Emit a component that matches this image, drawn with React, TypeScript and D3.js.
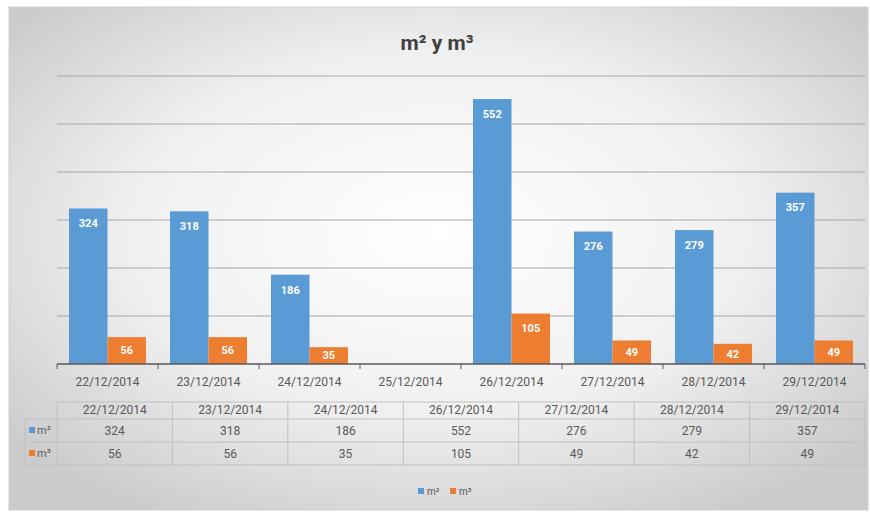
import React from "react";
import * as d3 from "d3";

// chart values
const categories = [
  "22/12/2014",
  "23/12/2014",
  "24/12/2014",
  "25/12/2014",
  "26/12/2014",
  "27/12/2014",
  "28/12/2014",
  "29/12/2014",
];
const m2Values: (number | null)[] = [324, 318, 186, null, 552, 276, 279, 357];
const m3Values: (number | null)[] = [56, 56, 35, null, 105, 49, 42, 49];
const seriesNames = ["m²", "m³"];
const yTicks = [0, 100, 200, 300, 400, 500, 600];

const colors = ["#5B9BD5", "#ED7D31"];
const textColor = "#595959";
const font = "Roboto, 'Open Sans', sans-serif";

export default function App() {
  const width = 870;
  const height = 513;

  // plot area
  const left = 57;
  const right = 865;
  const top = 76;
  const bottom = 364;

  const x = d3.scaleBand().domain(categories).range([left, right]).padding(0);
  const bw = x.bandwidth();
  const x1 = d3.scaleBand().domain(seriesNames).range([12, bw - 12]).padding(0);
  const y = d3.scaleLinear().domain([0, 600]).range([bottom, top]);

  const series = [m2Values, m3Values];

  // the data table only lists dates that have values
  const tableCats = categories.filter((c, i) => m2Values[i] !== null);
  const tx = d3.scaleBand().domain(tableCats).range([left, right]).padding(0);
  const tableLeft = 25;
  const rowY = [402, 419, 442, 465];

  return (
    <svg
      width={width}
      height={height}
      style={{ position: "absolute", left: 0, top: 0 }}
      fontFamily={font}
    >
      <defs>
        <radialGradient id="bg" cx="50%" cy="45%" r="65%">
          <stop offset="0%" stopColor="#ffffff" />
          <stop offset="55%" stopColor="#f0f0f0" />
          <stop offset="100%" stopColor="#cbcbcb" />
        </radialGradient>
      </defs>
      <rect x={0} y={0} width={width} height={height} fill="#ffffff" />
      <rect x={9} y={7} width={859} height={503} fill="url(#bg)" stroke="#d0d0d0" />

      {/* title */}
      <text
        x={437}
        y={50}
        textAnchor="middle"
        fontSize={21}
        fontWeight="bold"
        fill="#404040"
      >
        m² y m³
      </text>

      {/* gridlines */}
      {yTicks
        .filter((t) => t > 0)
        .map((t) => (
          <line
            key={t}
            x1={left}
            x2={right}
            y1={y(t)}
            y2={y(t)}
            stroke="#a6a6a6"
            strokeWidth={1}
          />
        ))}

      {/* bars */}
      {categories.map((c, i) => (
        <g key={c} transform={`translate(${x(c)},0)`}>
          {series.map((vals, s) => {
            const v = vals[i];
            if (v === null) return null;
            const bx = x1(seriesNames[s])!;
            const h = bottom - y(v);
            return (
              <g key={s}>
                <rect
                  x={bx}
                  y={y(v)}
                  width={x1.bandwidth()}
                  height={h}
                  fill={colors[s]}
                />
                <text
                  x={bx + x1.bandwidth() / 2}
                  y={y(v) + Math.min(15, h / 2)}
                  dy="0.35em"
                  textAnchor="middle"
                  fontSize={11}
                  fontWeight="bold"
                  fill="#ffffff"
                >
                  {v}
                </text>
              </g>
            );
          })}
        </g>
      ))}

      {/* category axis */}
      <line x1={left} x2={right} y1={bottom} y2={bottom} stroke="#595959" strokeWidth={1.5} />
      {categories.concat([""]).map((c, i) => {
        const px = left + i * bw;
        return <line key={i} x1={px} x2={px} y1={bottom} y2={bottom + 5} stroke="#595959" />;
      })}
      {categories.map((c) => (
        <text
          key={c}
          x={x(c)! + bw / 2}
          y={386}
          textAnchor="middle"
          fontSize={12}
          fill={textColor}
        >
          {c}
        </text>
      ))}

      {/* data table */}
      <g stroke="#c0c0c0" strokeWidth={1} fill="none">
        <line x1={left} x2={right} y1={rowY[0]} y2={rowY[0]} />
        {rowY.slice(1).map((ry) => (
          <line key={ry} x1={tableLeft} x2={right} y1={ry} y2={ry} />
        ))}
        <line x1={tableLeft} x2={tableLeft} y1={rowY[1]} y2={rowY[3]} />
        {tableCats.concat([""]).map((c, i) => {
          const px = left + i * tx.bandwidth();
          return <line key={i} x1={px} x2={px} y1={rowY[0]} y2={rowY[3]} />;
        })}
      </g>
      {tableCats.map((c) => (
        <text
          key={c}
          x={tx(c)! + tx.bandwidth() / 2}
          y={414}
          textAnchor="middle"
          fontSize={12}
          fill={textColor}
        >
          {c}
        </text>
      ))}
      {series.map((vals, s) => (
        <g key={s}>
          <rect x={29} y={rowY[s + 1] + 8} width={6} height={6} fill={colors[s]} />
          <text x={37} y={rowY[s + 1] + 15} fontSize={11} fill={textColor}>
            {seriesNames[s]}
          </text>
          {categories.map((c, i) => {
            const v = vals[i];
            if (v === null) return null;
            return (
              <text
                key={c}
                x={tx(c)! + tx.bandwidth() / 2}
                y={rowY[s + 1] + 16}
                textAnchor="middle"
                fontSize={12}
                fill={textColor}
              >
                {v}
              </text>
            );
          })}
        </g>
      ))}

      {/* legend */}
      {seriesNames.map((n, s) => (
        <g key={n} transform={`translate(${418 + s * 32},488)`}>
          <rect x={0} y={0} width={6} height={6} fill={colors[s]} />
          <text x={9} y={7} fontSize={10} fill={textColor}>
            {n}
          </text>
        </g>
      ))}
    </svg>
  );
}
